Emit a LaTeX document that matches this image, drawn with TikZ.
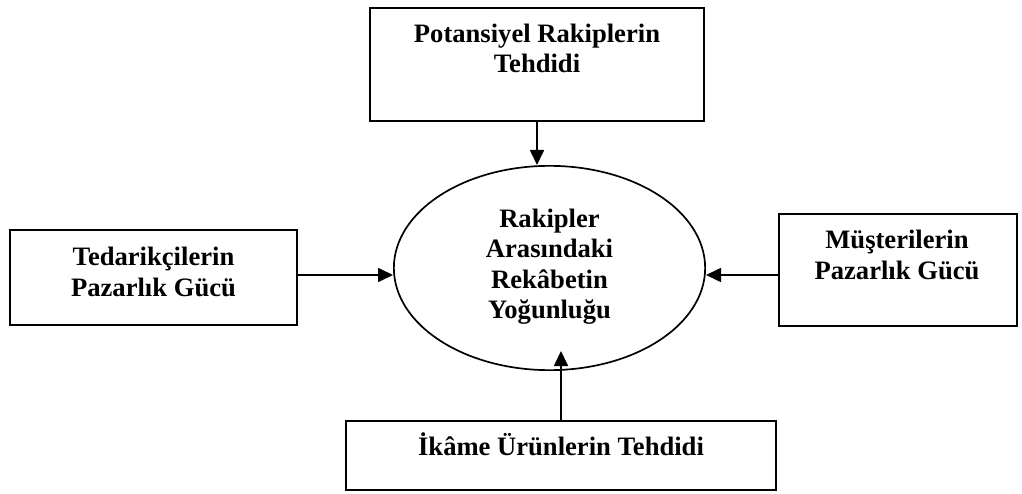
\documentclass[tikz,border=0pt]{standalone}
\usepackage{fontspec}
\setmainfont{Liberation Serif}
\usetikzlibrary{arrows.meta,shapes.geometric,calc}
\begin{document}
\begin{tikzpicture}[x=1pt,y=-1pt,
  forcebox/.style={draw=black,line width=2.2pt,rectangle,inner sep=0pt},
  core/.style={draw=black,line width=1.7pt,ellipse,inner sep=0pt},
  lbl/.style={align=center,inner sep=0pt,anchor=base,
    font={\fontsize{26.6}{30.5}\selectfont\bfseries}},
  arr/.style={line width=1.7pt,-{Triangle[length=15pt,width=14pt]}}]
\useasboundingbox (0,0) rectangle (1022,494);

% five forces: boxes and central ellipse
\node[forcebox,minimum width=333.8pt,minimum height=112.8pt] (pot) at (537,64.5) {};
\node[forcebox,minimum width=286.8pt,minimum height=94.8pt] (ted) at (153.5,277.5) {};
\node[forcebox,minimum width=237.8pt,minimum height=111.8pt] (mus) at (898,270) {};
\node[forcebox,minimum width=430.2pt,minimum height=68.8pt] (ika) at (561,455.5) {};
\node[core,minimum width=311.3pt,minimum height=204.3pt] (rek) at (549.5,268) {};

% labels (base = baseline of the last line)
\node[lbl] (potT) at (537,72.7) {Potansiyel Rakiplerin\\Tehdidi};
\node[lbl] (tedT) at (153.5,296) {Tedarikçilerin\\Pazarlık Gücü};
\node[lbl] (musT) at (897,279.5) {Müşterilerin\\Pazarlık Gücü};
\node[lbl] (ikaT) at (561,455) {İkâme Ürünlerin Tehdidi};
\node[lbl] (rekT) at (549.5,318.5) {Rakipler\\Arasındaki\\Rekâbetin\\Yoğunluğu};

% arrows into the centre
\coordinate (ly) at (0,275);
\draw[arr] (pot.south) -- (pot.south |- rek.north);
\draw[arr] (ted.east |- ly) -- (rek.west |- ly);
\draw[arr] (mus.west |- ly) -- (rek.east |- ly);
\draw[arr] (ika.north) -- ++(0,-69);
\end{tikzpicture}
\end{document}
